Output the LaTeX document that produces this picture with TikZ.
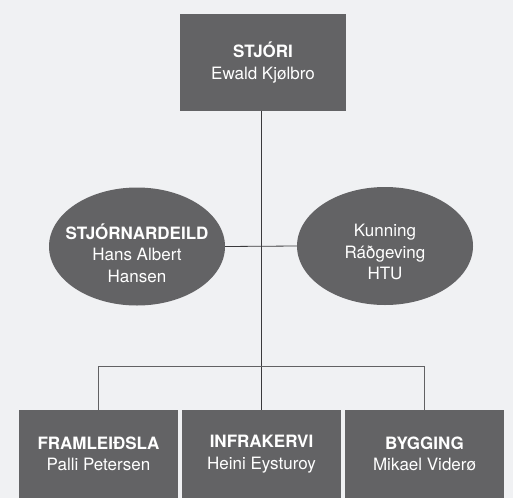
\documentclass[tikz,border=0pt]{standalone}
\usepackage{fontspec}
\setmainfont{TeX Gyre Heros}
\usetikzlibrary{shapes.geometric}
\definecolor{bakgrund}{HTML}{F0F1F3}
\definecolor{kassi}{HTML}{636365}
\definecolor{linja}{HTML}{3A3A3C}

\tikzset{
  eining/.style={fill=kassi, text=white, align=center, inner sep=0pt,
                 font=\fontsize{17}{21.5}\selectfont},
  leidsla/.style={eining, rectangle, minimum width=159pt, minimum height=88pt},
  radgeving/.style={eining, ellipse, minimum width=176pt, minimum height=118pt}
}

\begin{document}
\begin{tikzpicture}[x=1pt, y=-1pt]
%% bakgrund
\fill[bakgrund] (0,0) rectangle (513,498);
\useasboundingbox (0,0) rectangle (513,498);

%% stjóri
\node[leidsla, minimum width=166pt, minimum height=97pt] (stjori) at (263,62.5)
  {\textbf{STJÓRI}\\Ewald Kjølbro};

%% deildir
\node[leidsla] (fram)  at (98.5,454) {\textbf{FRAMLEIÐSLA}\\Palli Petersen};
\node[leidsla] (infra) at (261.5,454) {\textbf{INFRAKERVI}\\Heini Eysturoy};
\node[leidsla] (byg)   at (424.5,454) {\textbf{BYGGING}\\Mikael Viderø};

%% stjórnardeild og ráðgeving
\node[radgeving] (stjorn) at (137,246.5) {};
\node[radgeving] (kunn)   at (385,246)   {};
\node[eining, fill=none] at (137,253) {\textbf{STJÓRNARDEILD}\\Hans Albert\\Hansen};
\node[eining, fill=none] at (385,252) {Kunning\\Ráðgeving\\HTU};

%% linjur
\coordinate (bar) at (261,366);
\draw[linja, line width=0.8pt] (stjori.south -| infra.north) -- (infra.north);
\draw[linja, line width=0.8pt] (stjorn.east) -- (kunn.west);
\draw[linja!80, line width=0.8pt] (fram.north) -- (fram.north |- bar)
                                  -- (byg.north |- bar) -- (byg.north);
\end{tikzpicture}
\end{document}
